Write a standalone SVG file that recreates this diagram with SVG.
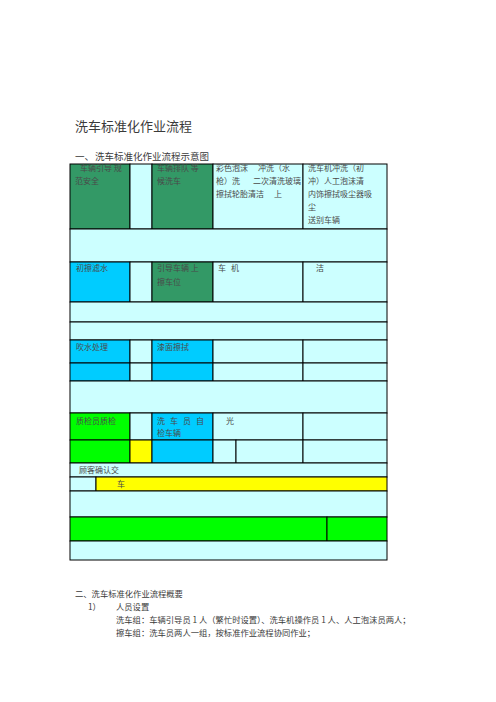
<svg xmlns="http://www.w3.org/2000/svg" width="496" height="702" viewBox="0 0 496 702">
<style>
text{font-family:"Noto Sans CJK SC","Noto Sans CJK JP",sans-serif;fill:#4a4a4a}
.t{font-size:8px}
.h{font-size:13px;fill:#3a3a3a}
.s{font-size:9.5px;fill:#3a3a3a}
.b{font-size:8.3px;fill:#3a3a3a}
.cell{stroke:#000;stroke-width:1}
.lc{fill:#CCFFFF}
.dg{fill:#339966}
.bl{fill:#00CCFF}
.gr{fill:#00FF00}
.ye{fill:#FFFF00}
</style>
<rect x="0" y="0" width="496" height="702" fill="#fff"/>
<text class="h" x="75" y="131">洗车标准化作业流程</text>
<text class="s" x="75" y="160">一、</text>
<text class="s" x="95" y="160">洗车标准化作业流程示意图</text>

<g id="table">
<g id="r1c1"><rect class="cell dg" x="70" y="164" width="60" height="65"/><text class="t" x="80" y="171">车辆引导 规</text><text class="t" x="75" y="184">范安全</text></g>
<g id="r1c2"><rect class="cell lc" x="130" y="164" width="22" height="65"/></g>
<g id="r1c3"><rect class="cell dg" x="152" y="164" width="61" height="65"/><text class="t" x="157" y="171">车辆排队 等</text><text class="t" x="157" y="184">候洗车</text></g>
<g id="r1c4"><rect class="cell lc" x="213" y="164" width="90" height="65"/><text class="t" x="216" y="171">彩色泡沫</text><text class="t" x="258" y="171">冲洗（水</text><text class="t" x="216" y="184">枪）洗</text><text class="t" x="253" y="184">二次清洗玻璃</text><text class="t" x="216" y="197">擦拭轮胎清洁</text><text class="t" x="274" y="197">上</text></g>
<g id="r1c5"><rect class="cell lc" x="303" y="164" width="84" height="65"/><text class="t" x="308" y="171">洗车机冲洗（初</text><text class="t" x="308" y="184">冲）人工泡沫清</text><text class="t" x="308" y="197">内饰擦拭吸尘器吸</text><text class="t" x="308" y="210">尘</text><text class="t" x="308" y="223">送别车辆</text></g>
<g id="r2"><rect class="cell lc" x="70" y="229" width="317" height="33"/></g>
<g id="r3c1"><rect class="cell bl" x="70" y="262" width="60" height="40"/><text class="t" x="76" y="271">初擦滤水</text></g>
<g id="r3c2"><rect class="cell lc" x="130" y="262" width="22" height="40"/></g>
<g id="r3c3"><rect class="cell dg" x="152" y="262" width="61" height="40"/><text class="t" x="157" y="271">引导车辆 上</text><text class="t" x="157" y="285">擦车位</text></g>
<g id="r3c4"><rect class="cell lc" x="213" y="262" width="90" height="40"/><text class="t" x="218" y="271">车</text><text class="t" x="231" y="271">机</text></g>
<g id="r3c5"><rect class="cell lc" x="303" y="262" width="84" height="40"/><text class="t" x="316" y="271">洁</text></g>
<g id="r4"><rect class="cell lc" x="70" y="302" width="317" height="20"/></g>
<g id="r5"><rect class="cell lc" x="70" y="322" width="317" height="18"/></g>
<g id="r6c1"><rect class="cell bl" x="70" y="340" width="60" height="23"/><text class="t" x="76" y="350">吹水处理</text></g>
<g id="r6c2"><rect class="cell lc" x="130" y="340" width="22" height="23"/></g>
<g id="r6c3"><rect class="cell bl" x="152" y="340" width="61" height="23"/><text class="t" x="157" y="350">漆面擦拭</text></g>
<g id="r6c4"><rect class="cell lc" x="213" y="340" width="90" height="23"/></g>
<g id="r6c5"><rect class="cell lc" x="303" y="340" width="84" height="23"/></g>
<g id="r7c1"><rect class="cell bl" x="70" y="363" width="60" height="18"/></g>
<g id="r7c2"><rect class="cell lc" x="130" y="363" width="22" height="18"/></g>
<g id="r7c3"><rect class="cell bl" x="152" y="363" width="61" height="18"/></g>
<g id="r7c4"><rect class="cell lc" x="213" y="363" width="90" height="18"/></g>
<g id="r7c5"><rect class="cell lc" x="303" y="363" width="84" height="18"/></g>
<g id="r8"><rect class="cell lc" x="70" y="381" width="317" height="32"/></g>
<g id="r9c1"><rect class="cell gr" x="70" y="413" width="60" height="27"/><text class="t" x="76" y="424">质检员质检</text></g>
<g id="r9c2"><rect class="cell lc" x="130" y="413" width="22" height="27"/></g>
<g id="r9c3"><rect class="cell bl" x="152" y="413" width="61" height="27"/><text class="t" x="157" y="424">洗</text><text class="t" x="170" y="424">车</text><text class="t" x="183" y="424">员</text><text class="t" x="196" y="424">自</text><text class="t" x="157" y="436">检车辆</text></g>
<g id="r9c4"><rect class="cell lc" x="213" y="413" width="90" height="27"/><text class="t" x="226" y="424">光</text></g>
<g id="r9c5"><rect class="cell lc" x="303" y="413" width="84" height="27"/></g>
<g id="r10c1"><rect class="cell gr" x="70" y="440" width="60" height="23"/></g>
<g id="r10c2"><rect class="cell ye" x="130" y="440" width="22" height="23"/></g>
<g id="r10c3"><rect class="cell bl" x="152" y="440" width="61" height="23"/></g>
<g id="r10c4"><rect class="cell lc" x="213" y="440" width="23" height="23"/></g>
<g id="r10c5"><rect class="cell lc" x="236" y="440" width="67" height="23"/></g>
<g id="r10c6"><rect class="cell lc" x="303" y="440" width="84" height="23"/></g>
<g id="r11"><rect class="cell lc" x="70" y="463" width="317" height="14"/><text class="t" x="79" y="473">顾客确认交</text></g>
<g id="r12c1"><rect class="cell lc" x="70" y="477" width="26" height="14"/></g>
<g id="r12c2"><rect class="cell ye" x="96" y="477" width="291" height="14"/><text class="t" x="117" y="487">车</text></g>
<g id="r13"><rect class="cell lc" x="70" y="491" width="317" height="26"/></g>
<g id="r14c1"><rect class="cell gr" x="70" y="517" width="257" height="24"/></g>
<g id="r14c2"><rect class="cell gr" x="327" y="517" width="60" height="24"/></g>
<g id="r15"><rect class="cell lc" x="70" y="541" width="317" height="19"/></g>
</g>

<g id="summary">
<text class="b" x="75" y="597">二、洗车标准化作业流程概要</text>
<text class="b" x="88" y="610">1）</text>
<text class="b" x="116" y="610">人员设置</text>
<text class="b" x="116" y="623">洗车组：车辆引导员 1 人（繁忙时设置）、洗车机操作员 1 人、人工泡沫员两人；</text>
<text class="b" x="116" y="636">擦车组：洗车员两人一组，按标准作业流程协同作业；</text>
</g>
</svg>
